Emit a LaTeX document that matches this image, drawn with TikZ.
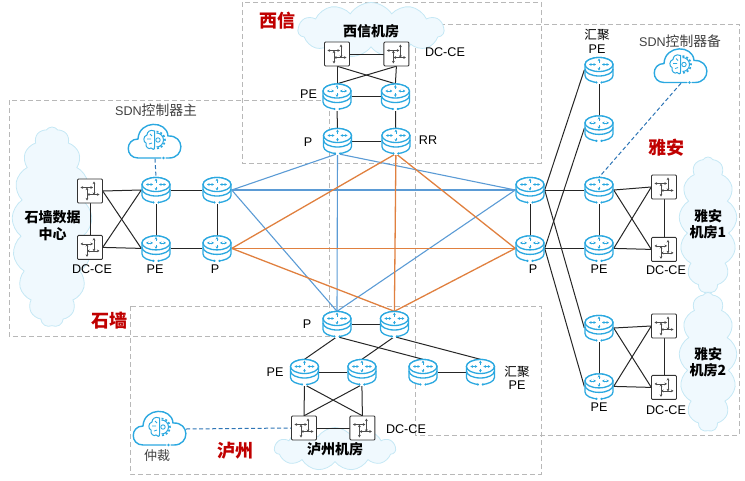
\documentclass[tikz,border=0pt]{standalone}
\usepackage{fontspec}
\setmainfont{Liberation Sans}
\newfontfamily\cjk{Noto Sans CJK SC}
\usetikzlibrary{positioning,shapes.symbols,arrows.meta}
\definecolor{iconblue}{HTML}{2BA8E0}
\definecolor{linkblue}{HTML}{5B9BD5}
\definecolor{linkorange}{HTML}{E0803F}
\definecolor{dashblue}{HTML}{2E75B6}
\definecolor{titlered}{HTML}{C00000}
\definecolor{roomfill}{HTML}{F0F9FE}
\definecolor{roomline}{HTML}{C5E8F5}
\newcommand{\cjksz}[1]{{\cjk\fontsize{13.8}{14}\selectfont #1}}
\tikzset{
  router/.style={minimum width=29pt,minimum height=25pt,inner sep=0pt},
  cesw/.style={minimum width=25pt,minimum height=24pt,inner sep=0pt},
  sdn/.style={minimum width=52pt,minimum height=33pt,inner sep=0pt},
  zone/.style={draw=black!28,dash pattern=on 5pt off 3pt,line width=.8pt},
  room/.style={cloud,cloud ignores aspect,draw=roomline,fill=roomfill,line width=.8pt,inner sep=0pt},
  title/.style={text=titlered,font=\cjk\bfseries\fontsize{18}{18}\selectfont},
  roomtext/.style={font=\cjk\bfseries\fontsize{14}{14}\selectfont},
  tag/.style={font=\fontsize{12.6}{13.5}\selectfont,inner sep=0pt},
  blink/.style={linkblue,line width=1.1pt},
  olink/.style={linkorange,line width=1.3pt},
  klink/.style={black!85,line width=1pt},
  tiny tip/.style={{Stealth[length=2.6pt,width=2.8pt]}-{Stealth[length=2.6pt,width=2.8pt]}},
  routerpic/.pic={
    \draw[iconblue,line width=1.3pt,fill=white] (-14,-5.5) -- (-14,5.5) arc[start angle=180,end angle=0,x radius=14,y radius=7] -- (14,-5.5) arc[start angle=0,end angle=-180,x radius=14,y radius=7];
    \draw[iconblue,line width=1.3pt] (-14,-1) arc[start angle=180,end angle=0,x radius=14,y radius=7];
    \draw[iconblue,line width=1.3pt,fill=white] (0,-5.5) ellipse[x radius=14,y radius=7];
    \draw[iconblue,line width=.8pt,tiny tip] (-10,-5.5) -- (-3,-5.5);
    \draw[iconblue,line width=.8pt,tiny tip] (3,-5.5) -- (10,-5.5);
    \draw[iconblue,line width=.8pt,-{Stealth[length=2.6pt,width=2.8pt]}] (0,-7.5) -- (0,-11.5);
    \draw[iconblue,line width=.8pt,-{Stealth[length=2.6pt,width=2.8pt]}] (0,-3.5) -- (0,.5);
    \fill[white] (-2,11) rectangle (2,14);
    \fill[iconblue] (-2.5,12.5) circle[radius=1.2] (2.5,12.5) circle[radius=1.2];
  },
  cepic/.pic={
    \draw[black!80,line width=.9pt,fill=white,rounded corners=1pt] (-12.5,-12) rectangle (12.5,12);
    \draw[black!70,line width=.7pt,tiny tip] (-9.5,-3.5) -- (3,-3.5);
    \draw[black!70,line width=.7pt,tiny tip] (4,-9.5) -- (4,4);
    \draw[black!70,line width=.7pt,tiny tip] (-3,-3.5) -- (-3,9.5);
    \draw[black!70,line width=.7pt,tiny tip] (-3,3.5) -- (9.5,3.5);
  },
  sdnpic/.pic={
    \draw[iconblue,line width=1.4pt,line cap=round] (6,16) -- (-17,16)
      .. controls (-30,16) and (-30,-3) .. (-17,-3)
      .. controls (-16,-22) and (12,-22) .. (13,-6)
      .. controls (30,-7) and (30,16) .. (14,16) -- (11,16);
    \fill[iconblue] (8.5,16) circle[radius=1.4];
    % brain half
    \draw[iconblue,line width=1pt] (-.5,-11) .. controls (-5,-13) and (-8,-10) .. (-8,-7)
      .. controls (-12,-6) and (-12,0) .. (-9,1)
      .. controls (-10,5) and (-6,8) .. (-4,6)
      .. controls (-3,8) and (0,8) .. (-.5,5) -- cycle;
    \draw[iconblue,line width=.8pt] (-8,-3) -- (-4,-3) (-5,-8) -- (-3,-6) (-6,2) -- (-3,1);
    % gear half
    \draw[iconblue,line width=1pt] (1.5,-9) arc[start angle=-90,end angle=90,radius=7];
    \draw[iconblue,line width=1.6pt,dash pattern=on 2pt off 2pt] (1.5,-10.5) arc[start angle=-90,end angle=90,radius=8.5];
    \draw[iconblue,line width=.9pt] (3,-2) circle[radius=2.2];
  }
}
\begin{document}
\begin{tikzpicture}[x=1pt,y=-1pt]
  \useasboundingbox (0,0) rectangle (745,480);
  % zones
  \draw[zone] (9,100) rectangle (329,336);
  \draw[zone] (242,2) rectangle (541,163);
  \draw[zone] (415,24) rectangle (739,435);
  \draw[zone] (130,306) rectangle (541,474);
  % rooms
  \node[room,cloud puffs=17,cloud puff arc=110,minimum width=80pt,minimum height=200pt] (room_sq) at (52,227) {};
  \node[room,cloud puffs=11,cloud puff arc=115,minimum width=146pt,minimum height=55pt] (room_xx) at (371,30) {};
  \node[room,cloud puffs=11,cloud puff arc=115,minimum width=121pt,minimum height=43pt] (room_lz) at (335,449) {};
  \node[room,cloud puffs=13,cloud puff arc=115,minimum width=58pt,minimum height=136pt] (room_ya1) at (708,225) {};
  \node[room,cloud puffs=13,cloud puff arc=115,minimum width=58pt,minimum height=139pt] (room_ya2) at (708,362) {};
  % xixin
  \node[cesw] (xx_ce1) at (337,54) {};
  \node[cesw] (xx_ce2) [right=34pt of xx_ce1] {};
  \node[router] (xx_pe1) at (337,96.5) {};
  \node[router] (xx_pe2) [right=29pt of xx_pe1] {};
  \node[router] (xx_p) at (337.5,141) {};
  \node[router] (xx_rr) [right=29pt of xx_p] {};
  % shiqiang
  \node[cesw] (sq_ce1) at (90,191) {};
  \node[cesw] (sq_ce2) [below=32pt of sq_ce1] {};
  \node[router] (sq_pe1) at (156,190) {};
  \node[router] (sq_pe2) [below=33pt of sq_pe1] {};
  \node[router] (sq_p1) at (217,190) {};
  \node[router] (sq_p2) [below=33pt of sq_p1] {};
  \node[sdn] (sdn_main) at (155,142) {};
  % yaan
  \node[router] (ya_p1) at (530,190) {};
  \node[router] (ya_p2) [below=33pt of ya_p1] {};
  \node[router] (ya_pe1) at (599,190) {};
  \node[router] (ya_pe2) [below=33pt of ya_pe1] {};
  \node[router] (ya_pe3) at (599,328) {};
  \node[router] (ya_pe4) [below=33pt of ya_pe3] {};
  \node[router] (ya_ag1) at (599,70) {};
  \node[router] (ya_ag2) [below=33pt of ya_ag1] {};
  \node[cesw] (ya_ce1) at (664,187) {};
  \node[cesw] (ya_ce2) [below=38pt of ya_ce1] {};
  \node[cesw] (ya_ce3) at (664,326) {};
  \node[cesw] (ya_ce4) [below=37pt of ya_ce3] {};
  \node[sdn] (sdn_bak) at (681,66.5) {};
  % luzhou
  \node[router] (lz_p1) at (337,324) {};
  \node[router] (lz_p2) [right=28pt of lz_p1] {};
  \node[router] (lz_pe1) at (304.5,372) {};
  \node[router] (lz_pe2) [right=28pt of lz_pe1] {};
  \node[router] (lz_ag1) at (423,372) {};
  \node[router] (lz_ag2) [right=28pt of lz_ag1] {};
  \node[cesw] (lz_ce1) at (304,428) {};
  \node[cesw] (lz_ce2) [right=33pt of lz_ce1] {};
  \node[sdn] (sdn_arb) at (160,429) {};
  % wan links
  \path[blink]
    (xx_p.south) edge (sq_p1.east)
                 edge (ya_p1.west)
                 edge (lz_p1.north)
    (lz_p1.north) edge (sq_p1.east)
                  edge (ya_p1.west)
    (sq_p1.east) edge (ya_p1.west)
    ;
  \path[olink]
    (xx_rr.south) edge (sq_p2.east)
                  edge (ya_p2.west)
                  edge (lz_p2.north)
    (lz_p2.north) edge (sq_p2.east)
                  edge (ya_p2.west)
    (sq_p2.east) edge (ya_p2.west)
    ;
  % site links
  \path[klink]
    (xx_ce1) edge (xx_ce2)
    (xx_ce1.south) edge (xx_pe1.north)
                   edge (xx_pe2.north)
    (xx_ce2.south) edge (xx_pe1.north)
                   edge (xx_pe2.north)
    (xx_pe1) edge (xx_pe2)
             edge (xx_p)
    (xx_pe2) edge (xx_rr)
    (xx_p) edge (xx_rr)
    (sq_ce1) edge (sq_ce2)
    (sq_ce1.east) edge (sq_pe1.west)
                  edge (sq_pe2.west)
    (sq_ce2.east) edge (sq_pe1.west)
                  edge (sq_pe2.west)
    (sq_pe1) edge (sq_pe2)
             edge (sq_p1)
    (sq_pe2) edge (sq_p2)
    (sq_p1) edge (sq_p2)
    (ya_p1) edge (ya_p2)
    (ya_p1.east) edge (ya_pe1.west)
                 edge (ya_ag1.west)
                 edge (ya_pe3.west)
    (ya_p2.east) edge (ya_pe2.west)
                 edge (ya_ag2.west)
                 edge (ya_pe4.west)
    (ya_ag1) edge (ya_ag2)
    (ya_pe1) edge (ya_pe2)
    (ya_pe3) edge (ya_pe4)
    (ya_pe1.east) edge (ya_ce1.west)
                  edge (ya_ce2.west)
    (ya_pe2.east) edge (ya_ce1.west)
                  edge (ya_ce2.west)
    (ya_pe3.east) edge (ya_ce3.west)
                  edge (ya_ce4.west)
    (ya_pe4.east) edge (ya_ce3.west)
                  edge (ya_ce4.west)
    (ya_ce1) edge (ya_ce2)
    (ya_ce3) edge (ya_ce4)
    (lz_p1) edge (lz_p2)
    (lz_p1.south) edge (lz_pe1.north)
                  edge (lz_ag1.north)
    (lz_p2.south) edge (lz_pe2.north)
                  edge (lz_ag2.north)
    (lz_pe1) edge (lz_pe2)
    (lz_ag1) edge (lz_ag2)
    (lz_pe1.south) edge (lz_ce1.north)
                   edge (lz_ce2.north)
    (lz_pe2.south) edge (lz_ce1.north)
                   edge (lz_ce2.north)
    (lz_ce1) edge (lz_ce2)
    ;
  % controller links
  \path[dashblue,line width=1pt,dash pattern=on 4pt off 2.5pt]
    (sdn_main.south) edge (sq_pe1.north)
    (sdn_bak.south) edge (ya_pe1.north)
    (sdn_arb.east) edge (lz_ce1.west)
    ;
  % icons
  \foreach \n in {xx_pe1,xx_pe2,xx_p,xx_rr,sq_pe1,sq_pe2,sq_p1,sq_p2,ya_p1,ya_p2,ya_pe1,ya_pe2,ya_pe3,ya_pe4,ya_ag1,ya_ag2,lz_p1,lz_p2,lz_pe1,lz_pe2,lz_ag1,lz_ag2}
    \pic at (\n) {routerpic};
  \foreach \n in {xx_ce1,xx_ce2,sq_ce1,sq_ce2,ya_ce1,ya_ce2,ya_ce3,ya_ce4,lz_ce1,lz_ce2}
    \pic at (\n) {cepic};
  \foreach \n in {sdn_main,sdn_bak,sdn_arb}
    \pic at (\n) {sdnpic};
  % titles
  \node[title] (t_xx) at (277,21) {西信};
  \node[title] (t_sq) at (109.5,321) {石墙};
  \node[title] (t_ya) at (666,148) {雅安};
  \node[title] (t_lz) at (235,451) {泸州};
  \node[roomtext] (r_xx) at (371,31) {西信机房};
  \node[roomtext,align=center] (r_sq) at (52.5,226) {石墙数据\\[3pt]中心};
  \node[roomtext,align=center] (r_ya1) at (708,224) {雅安\\[2pt]机房1};
  \node[roomtext,align=center] (r_ya2) at (708,362) {雅安\\[2pt]机房2};
  \node[roomtext] (r_lz) at (335,449) {泸州机房};
  % labels
  \node[tag] (l1) at (445,52) {DC-CE};
  \node[tag] (l2) at (308.5,94) {PE};
  \node[tag] (l3) at (308,142) {P};
  \node[tag] (l4) at (428,140) {RR};
  \node[tag,text=black!75] (l5) at (156,110) {SDN\cjksz{控制器主}};
  \node[tag] (l6) at (92,269) {DC-CE};
  \node[tag] (l7) at (155,269) {PE};
  \node[tag] (l8) at (215,269) {P};
  \node[tag,align=center] (l9) at (597,41.5) {{\cjk 汇聚}\\PE};
  \node[tag,text=black!75] (l10) at (680,41) {SDN\cjksz{控制器备}};
  \node[tag] (l11) at (533,269) {P};
  \node[tag] (l12) at (599,269) {PE};
  \node[tag] (l13) at (666,270) {DC-CE};
  \node[tag] (l14) at (599,407) {PE};
  \node[tag] (l15) at (666,410) {DC-CE};
  \node[tag,align=center] (l16) at (517,378) {{\cjk 汇聚}\\PE};
  \node[tag] (l17) at (307,324) {P};
  \node[tag] (l18) at (275,372) {PE};
  \node[tag] (l19) at (406,429) {DC-CE};
  \node[tag,text=black!75,font=\cjk\fontsize{13}{13}\selectfont] (l20) at (157,456) {仲裁};
\end{tikzpicture}
\end{document}
